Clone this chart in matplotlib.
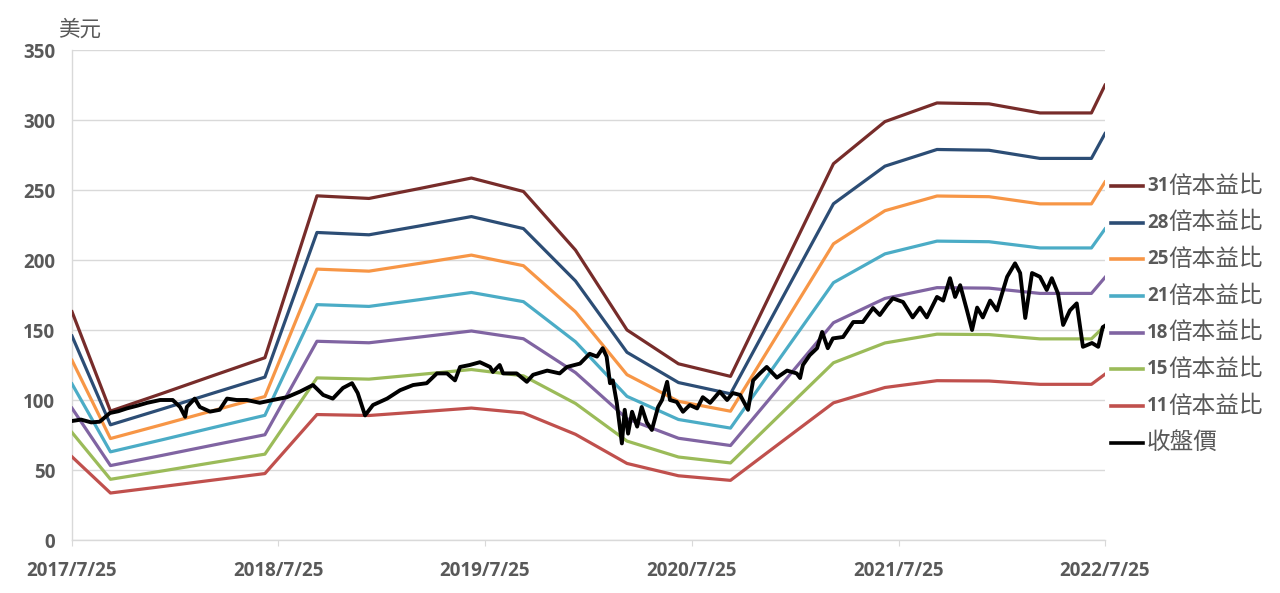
import matplotlib
matplotlib.use('Agg')
import matplotlib.pyplot as plt
import pandas as pd
import numpy as np

# ---------------- data ----------------
eps_dates = ['2017-07-25', '2017-10-01', '2018-01-01', '2018-04-01', '2018-07-01',
             '2018-10-01', '2019-01-01', '2019-04-01', '2019-07-01', '2019-10-01',
             '2020-01-01', '2020-04-01', '2020-07-01', '2020-10-01', '2021-01-01',
             '2021-04-01', '2021-07-01', '2021-10-01', '2022-01-01', '2022-04-01',
             '2022-07-01', '2022-07-25']
eps_values = [5.26, 2.97, 3.38, 3.79, 4.20,
              7.93, 7.87, 8.10, 8.34, 8.03,
              6.68, 4.84, 4.06, 3.77, 6.25,
              8.67, 9.64, 10.07, 10.05, 9.84,
              9.84, 10.48]

multiples = [31, 27.7, 24.4, 21.2, 17.9, 14.6, 11.3]
band_numbers = ['31', '28', '25', '21', '18', '15', '11']
band_suffix = '倍本益比'
price_label = '收盤價'

price_dates = ['2017-07-25', '2017-08-10', '2017-08-28', '2017-09-12', '2017-09-30', '2017-10-15',
               '2017-10-30', '2017-11-18', '2017-12-05', '2017-12-28', '2018-01-19', '2018-02-01',
               '2018-02-10', '2018-02-13', '2018-02-27', '2018-03-08', '2018-03-26', '2018-04-12',
               '2018-04-25', '2018-05-12', '2018-05-30', '2018-06-22', '2018-07-15', '2018-08-09',
               '2018-09-01', '2018-09-24', '2018-10-12', '2018-10-29', '2018-11-16', '2018-12-02',
               '2018-12-12', '2018-12-25', '2019-01-08', '2019-02-02', '2019-02-25', '2019-03-20',
               '2019-04-13', '2019-05-01', '2019-05-19', '2019-06-02', '2019-06-11', '2019-06-28',
               '2019-07-16', '2019-08-03', '2019-08-08', '2019-08-20', '2019-08-26', '2019-09-19',
               '2019-10-07', '2019-10-18', '2019-11-12', '2019-12-04', '2019-12-17', '2020-01-09',
               '2020-01-26', '2020-02-08', '2020-02-18', '2020-02-25', '2020-03-02', '2020-03-07',
               '2020-03-14', '2020-03-23', '2020-03-28', '2020-04-03', '2020-04-10', '2020-04-19',
               '2020-04-27', '2020-05-06', '2020-05-15', '2020-05-26', '2020-06-02', '2020-06-11',
               '2020-06-16', '2020-06-28', '2020-07-09', '2020-07-21', '2020-08-03', '2020-08-13',
               '2020-08-26', '2020-09-12', '2020-09-25', '2020-10-05', '2020-10-18', '2020-11-01',
               '2020-11-10', '2020-11-22', '2020-12-04', '2020-12-22', '2021-01-09', '2021-01-26',
               '2021-02-01', '2021-02-06', '2021-02-18', '2021-03-03', '2021-03-12', '2021-03-22',
               '2021-03-31', '2021-04-18', '2021-05-06', '2021-05-23', '2021-06-10', '2021-06-22',
               '2021-07-05', '2021-07-15', '2021-08-02', '2021-08-19', '2021-09-01', '2021-09-13',
               '2021-10-01', '2021-10-12', '2021-10-24', '2021-11-02', '2021-11-11', '2021-11-23',
               '2021-12-02', '2021-12-11', '2021-12-21', '2022-01-03', '2022-01-15', '2022-02-02',
               '2022-02-16', '2022-02-25', '2022-03-06', '2022-03-18', '2022-04-01', '2022-04-13',
               '2022-04-22', '2022-05-03', '2022-05-12', '2022-05-24', '2022-06-05', '2022-06-16',
               '2022-07-02', '2022-07-13', '2022-07-21', '2022-07-25']
price_values = [85, 86, 84, 84.5, 90.7, 92,
                94, 96, 98, 100, 100, 95,
                88, 95, 101, 95, 91.7, 93,
                101, 100, 100, 98, 100, 102,
                106, 110.7, 103.6, 101, 108.6, 112,
                105, 89, 96.4, 101, 107, 110.7,
                112, 119, 119, 114, 123.6, 125,
                127, 123.6, 120, 125, 119, 119,
                113, 118, 121, 119, 123.6, 126,
                133, 131, 137, 131, 112, 114,
                98, 69, 93, 76, 91.6, 81,
                95, 84, 78.6, 95, 100, 113,
                100, 98.6, 91.6, 96.4, 94, 102,
                98, 106, 100, 105, 103.6, 93,
                114, 119, 123.6, 116, 121, 119,
                115.7, 125, 132, 137, 148.6, 137,
                144, 145, 155.7, 155.7, 165.7, 160.7,
                167.9, 172.6, 170, 159, 166, 159,
                173.6, 171, 187, 173.6, 182, 164,
                150, 166, 159, 171, 164, 188,
                197.6, 190.7, 158.6, 190.7, 188, 178.6,
                187, 176, 153.6, 164, 169, 138,
                140.7, 138, 152, 153]

xtick_dates = ['2017-07-25', '2018-07-25', '2019-07-25', '2020-07-25', '2021-07-25', '2022-07-25']
xtick_labels = ['2017/7/25', '2018/7/25', '2019/7/25', '2020/7/25', '2021/7/25', '2022/7/25']
yticks = [0, 50, 100, 150, 200, 250, 300, 350]
y_unit = '美元'

# ---------------- style ----------------
band_colors = ['#772C2A', '#2C4D75', '#F79646', '#4BACC6', '#8064A2', '#9BBB59', '#C0504D']
text_color = '#595959'
grid_color = '#D9D9D9'
num_font = ['Open Sans', 'DejaVu Sans']
cjk_font = ['Noto Sans CJK TC', 'DejaVu Sans']

fig = plt.figure(figsize=(12.8, 5.93), dpi=100)
ax = fig.add_axes([72 / 1280, 53 / 593, 1033 / 1280, 490 / 593])

ed = pd.to_datetime(eps_dates)
eps = np.array(eps_values)
for m, c in zip(multiples, band_colors):
    ax.plot(ed, eps * m, color=c, lw=2.3, solid_joinstyle='round', zorder=3)

ax.plot(pd.to_datetime(price_dates), price_values, color='black', lw=2.8,
        solid_joinstyle='round', zorder=4)

ax.set_ylim(0, 350)
ax.set_xlim(pd.Timestamp('2017-07-25'), pd.Timestamp('2022-07-25'))
ax.set_yticks(yticks)
ax.set_yticklabels([str(v) for v in yticks])
ax.set_xticks(pd.to_datetime(xtick_dates))
ax.set_xticklabels(xtick_labels)

ax.yaxis.grid(True, color=grid_color, lw=1)
ax.set_axisbelow(True)
for s in ['top', 'right']:
    ax.spines[s].set_visible(False)
for s in ['left', 'bottom']:
    ax.spines[s].set_color(grid_color)
    ax.spines[s].set_linewidth(1)

ax.tick_params(axis='y', length=0, pad=12)
ax.tick_params(axis='x', length=4, color=grid_color, pad=11)
for lab in ax.get_xticklabels() + ax.get_yticklabels():
    lab.set_fontfamily(num_font)
    lab.set_fontweight('bold')
    lab.set_fontsize(13.5)
    lab.set_color(text_color)

fig.text(80 / 1280, 1 - 30 / 593, y_unit, fontfamily=cjk_font, fontsize=15.5,
         color=text_color, ha='center', va='center')

# ---------------- legend (drawn manually: bold digits + CJK text) ----------------
leg_y_px = [186, 222.7, 259.4, 296, 332.7, 369.4, 406, 442.7]
x0 = (1111 - 72) / 1033
x1 = (1143 - 72) / 1033
xt = (1147 - 72) / 1033
for i, (num, c) in enumerate(zip(band_numbers, band_colors)):
    y = (540 - leg_y_px[i]) / 490
    ax.plot([x0, x1], [y, y], transform=ax.transAxes, color=c, lw=2.6, clip_on=False)
    t1 = ax.text(xt, y, num, transform=ax.transAxes, fontfamily=num_font, fontweight='bold',
                 fontsize=13.5, color=text_color, ha='left', va='center')
    ax.annotate(band_suffix, xy=(1, 0.5), xycoords=t1, fontfamily=cjk_font, fontsize=17,
                color=text_color, ha='left', va='center')
y = (540 - leg_y_px[-1]) / 490
ax.plot([x0, x1], [y, y], transform=ax.transAxes, color='black', lw=2.6, clip_on=False)
ax.text(xt, y, price_label, transform=ax.transAxes, fontfamily=cjk_font, fontsize=17,
        color=text_color, ha='left', va='center')

fig.savefig('out.png', dpi=100, facecolor='white')
